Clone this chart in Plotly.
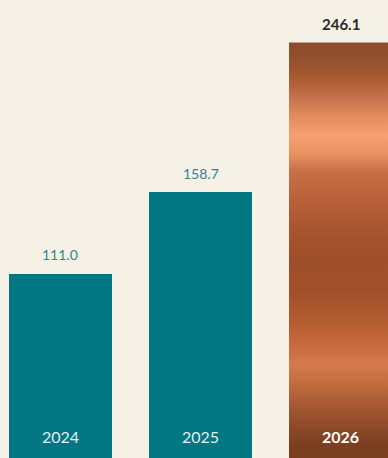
import plotly.graph_objects as go

# ---- data ----
years = ["2024", "2025", "2026"]
values = [111.0, 158.7, 246.1]
value_labels = ["111.0", "158.7", "246.1"]

# ---- style ----
BG = "#f6f1e6"
TEAL = "#007782"
LABEL_TEAL = "#2b8893"
BAR_W = 0.736
FONT = "Lato, 'Open Sans', sans-serif"

copper_scale = [
    [0.000, "#7a3e20"],
    [0.044, "#7c3e20"],
    [0.080, "#8a4828"],
    [0.127, "#a05530"],
    [0.187, "#c06a3e"],
    [0.234, "#d47a4c"],
    [0.282, "#c86a3e"],
    [0.341, "#b25c30"],
    [0.412, "#a04f2a"],
    [0.484, "#9e4e2a"],
    [0.555, "#a85530"],
    [0.626, "#b86038"],
    [0.697, "#c87048"],
    [0.733, "#e89060"],
    [0.781, "#f5a070"],
    [0.828, "#e08a5c"],
    [0.876, "#c06e48"],
    [0.923, "#a5582f"],
    [0.971, "#8f4e2e"],
    [1.000, "#8c4c2c"],
]

xs = list(range(len(years)))
highlight = len(years) - 1

fig = go.Figure()
fig.add_trace(go.Bar(
    x=xs, y=values, width=BAR_W,
    marker=dict(color=[TEAL, TEAL, "#a85530"], line=dict(width=0)),
    hoverinfo="skip", showlegend=False,
))

# gradient overlay for highlighted bar, built from its data value
hx = xs[highlight]
hv = values[highlight]
fig.add_trace(go.Scatter(
    x=[hx - BAR_W / 2, hx + BAR_W / 2, hx + BAR_W / 2, hx - BAR_W / 2, hx - BAR_W / 2],
    y=[0, 0, hv, hv, 0],
    mode="lines", line=dict(width=0), fill="toself",
    fillgradient=dict(type="vertical", colorscale=copper_scale, start=0, stop=hv),
    hoverinfo="skip", showlegend=False,
))

# value labels above bars
for i, (x, v, t) in enumerate(zip(xs, values, value_labels)):
    is_h = i == highlight
    fig.add_annotation(
        x=x, y=v, text=f"<b>{t}</b>" if is_h else t, showarrow=False,
        yanchor="middle", yshift=19,
        font=dict(family=FONT, size=15 if is_h else 14,
                  color="#2a2a2a" if is_h else LABEL_TEAL),
    )

# year labels inside bars
for i, (x, y) in enumerate(zip(xs, years)):
    is_h = i == highlight
    fig.add_annotation(
        x=x, y=0.048, yref="paper", text=f"<b>{y}</b>" if is_h else y,
        showarrow=False, yanchor="middle",
        font=dict(family=FONT, size=16, color="#ffffff" if is_h else "#e6eeee"),
    )

fig.update_layout(
    width=388, height=458,
    margin=dict(l=0, r=0, t=0, b=0),
    paper_bgcolor=BG, plot_bgcolor=BG,
    xaxis=dict(range=[-0.432, 2.339], visible=False, fixedrange=True),
    yaxis=dict(range=[3.2, 271.0], visible=False, fixedrange=True),
    bargap=0,
)

fig.write_html(
    "out.html",
    config={"displayModeBar": False},
    post_script="document.body.style.margin='0';document.body.style.overflow='hidden';document.body.style.background='#f6f1e6';",
)
